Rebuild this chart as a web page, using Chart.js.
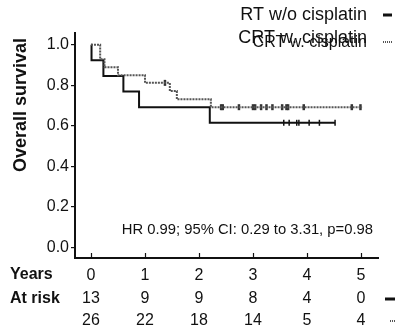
<!DOCTYPE html>
<html>
<head>
<meta charset="utf-8">
<script src="https://cdn.jsdelivr.net/npm/chart.js@4.4.1/dist/chart.umd.min.js"></script>
<style>
html,body{margin:0;padding:0;background:#fff;}
#wrap{width:395px;height:335px;position:relative;}
</style>
</head>
<body>
<div id="wrap"><canvas id="c" width="395" height="335"></canvas></div>
<script>
// ---- data ----
const years = [0, 1, 2, 3, 4, 5];
const yTicks = [0, 0.2, 0.4, 0.6, 0.8, 1.0];
const riskRT = [13, 9, 9, 8, 4, 0];
const riskCRT = [26, 22, 18, 14, 5, 4];

const rtTimes = [0, 0.01, 0.23, 0.60, 0.89, 2.20, 4.52];
const rtSurv  = [1.0, 0.923, 0.846, 0.769, 0.692, 0.615, 0.615];
const rtCensorTimes = [3.57, 3.67, 3.81, 3.85, 4.04, 4.23, 4.52];
const rtCensorSurv  = [0.615, 0.615, 0.615, 0.615, 0.615, 0.615, 0.615];

const crtTimes = [0, 0.17, 0.25, 0.50, 1.00, 1.46, 1.59, 2.22, 5.02];
const crtSurv  = [1.0, 0.929, 0.889, 0.850, 0.812, 0.772, 0.731, 0.692, 0.692];
const crtCensorTimes = [1.37, 2.41, 2.44, 2.74, 3.00, 3.04, 3.15, 3.25, 3.36, 3.54, 3.62, 3.65, 3.94, 4.83, 4.99];
const crtCensorSurv  = [0.812, 0.692, 0.692, 0.692, 0.692, 0.692, 0.692, 0.692, 0.692, 0.692, 0.692, 0.692, 0.692, 0.692, 0.692];

const seriesNames = ['RT w/o cisplatin', 'CRT w. cisplatin'];
const hrText = 'HR 0.99; 95% CI: 0.29 to 3.31, p=0.98';
const yTitle = 'Overall survival';

// ---- build ----
const pts = (xs, ys) => xs.map((x, i) => ({x: x, y: ys[i]}));
const FONT = '"Liberation Sans", Arial, Helvetica, sans-serif';
const INK = '#111';
const GRAY = '#555';

const overlay = {
  id: 'overlay',
  afterDraw(chart) {
    const ctx = chart.ctx;
    const xs = chart.scales.x;
    const area = chart.chartArea;
    ctx.save();
    // inward x ticks
    ctx.strokeStyle = INK; ctx.lineWidth = 1.2;
    years.forEach(v => {
      const px = Math.round(xs.getPixelForValue(v)) + 0.5;
      ctx.beginPath(); ctx.moveTo(px, area.bottom - 1); ctx.lineTo(px, area.bottom - 5); ctx.stroke();
    });
    // y title
    ctx.fillStyle = INK;
    ctx.font = 'bold 18px ' + FONT;
    ctx.translate(26, 105); ctx.rotate(-Math.PI / 2);
    ctx.textAlign = 'center'; ctx.textBaseline = 'alphabetic';
    ctx.fillText(yTitle, 0, 0);
    ctx.setTransform(1, 0, 0, 1, 0, 0);
    // legend
    ctx.textAlign = 'right';
    ctx.font = '18px ' + FONT;
    ctx.fillText(seriesNames[0], 367, 20);
    ctx.fillText(seriesNames[1], 367, 43);
    ctx.font = '16px ' + FONT;
    ctx.fillText(seriesNames[1], 367, 47);
    ctx.strokeStyle = INK; ctx.lineWidth = 3;
    ctx.beginPath(); ctx.moveTo(383, 15); ctx.lineTo(392, 15); ctx.stroke();
    ctx.strokeStyle = GRAY; ctx.lineWidth = 2; ctx.setLineDash([1, 1]);
    ctx.beginPath(); ctx.moveTo(383, 42); ctx.lineTo(392, 42); ctx.stroke();
    ctx.setLineDash([]);
    // HR text
    ctx.font = '14.8px ' + FONT;
    ctx.fillText(hrText, 373, 234);
    // risk table
    ctx.textAlign = 'left';
    ctx.font = 'bold 16px ' + FONT;
    ctx.textBaseline = 'middle';
    ctx.fillText('Years', 10, 275);
    ctx.fillText('At risk', 10, 299);
    ctx.font = '16px ' + FONT;
    ctx.textAlign = 'center';
    years.forEach((v, i) => {
      const px = xs.getPixelForValue(v);
      ctx.fillText(String(riskRT[i]), px, 299);
      ctx.fillText(String(riskCRT[i]), px, 321);
    });
    ctx.strokeStyle = INK; ctx.lineWidth = 3;
    ctx.beginPath(); ctx.moveTo(385, 299); ctx.lineTo(395, 299); ctx.stroke();
    ctx.strokeStyle = GRAY; ctx.lineWidth = 2; ctx.setLineDash([1, 1]);
    ctx.beginPath(); ctx.moveTo(390, 321); ctx.lineTo(397, 321); ctx.stroke();
    ctx.restore();
  }
};

new Chart(document.getElementById('c'), {
  type: 'line',
  data: {
    datasets: [
      {
        label: seriesNames[1], data: pts(crtTimes, crtSurv), stepped: 'before',
        borderColor: GRAY, borderWidth: 2, borderDash: [2, 1], pointRadius: 0, fill: false
      },
      {
        label: seriesNames[0], data: pts(rtTimes, rtSurv), stepped: 'before',
        borderColor: INK, borderWidth: 2, pointRadius: 0, fill: false
      },
      {
        label: 'crt censor', data: pts(crtCensorTimes, crtCensorSurv), showLine: false,
        pointStyle: 'line', rotation: 90, pointRadius: 3, borderWidth: 2.5,
        borderColor: '#333', backgroundColor: '#333'
      },
      {
        label: 'rt censor', data: pts(rtCensorTimes, rtCensorSurv), showLine: false,
        pointStyle: 'line', rotation: 90, pointRadius: 3, borderWidth: 1.5,
        borderColor: INK, backgroundColor: INK
      }
    ]
  },
  options: {
    responsive: false,
    animation: false,
    devicePixelRatio: 1,
    layout: { padding: { left: 0, right: 17, top: 33, bottom: 47 } },
    plugins: { legend: { display: false }, tooltip: { enabled: false } },
    scales: {
      x: {
        type: 'linear', min: -0.296, max: 5.315,
        afterBuildTicks: s => { s.ticks = years.map(v => ({value: v})); },
        afterFit: s => { s.height = 30; },
        grid: { drawOnChartArea: false, drawTicks: false },
        border: { color: INK, width: 2 },
        ticks: { color: INK, font: { family: FONT, size: 16 }, padding: 8, maxRotation: 0 }
      },
      y: {
        type: 'linear', min: -0.052, max: 1.058,
        afterBuildTicks: s => { s.ticks = yTicks.map(v => ({value: v})); },
        afterFit: s => { s.width = 75; },
        grid: { drawOnChartArea: false, drawTicks: true, tickLength: 4, color: INK, lineWidth: 1.2 },
        border: { color: INK, width: 2 },
        ticks: { color: INK, font: { family: FONT, size: 16 }, padding: 2,
                 callback: v => Number(v).toFixed(1) }
      }
    }
  },
  plugins: [overlay]
});
</script>
</body>
</html>
